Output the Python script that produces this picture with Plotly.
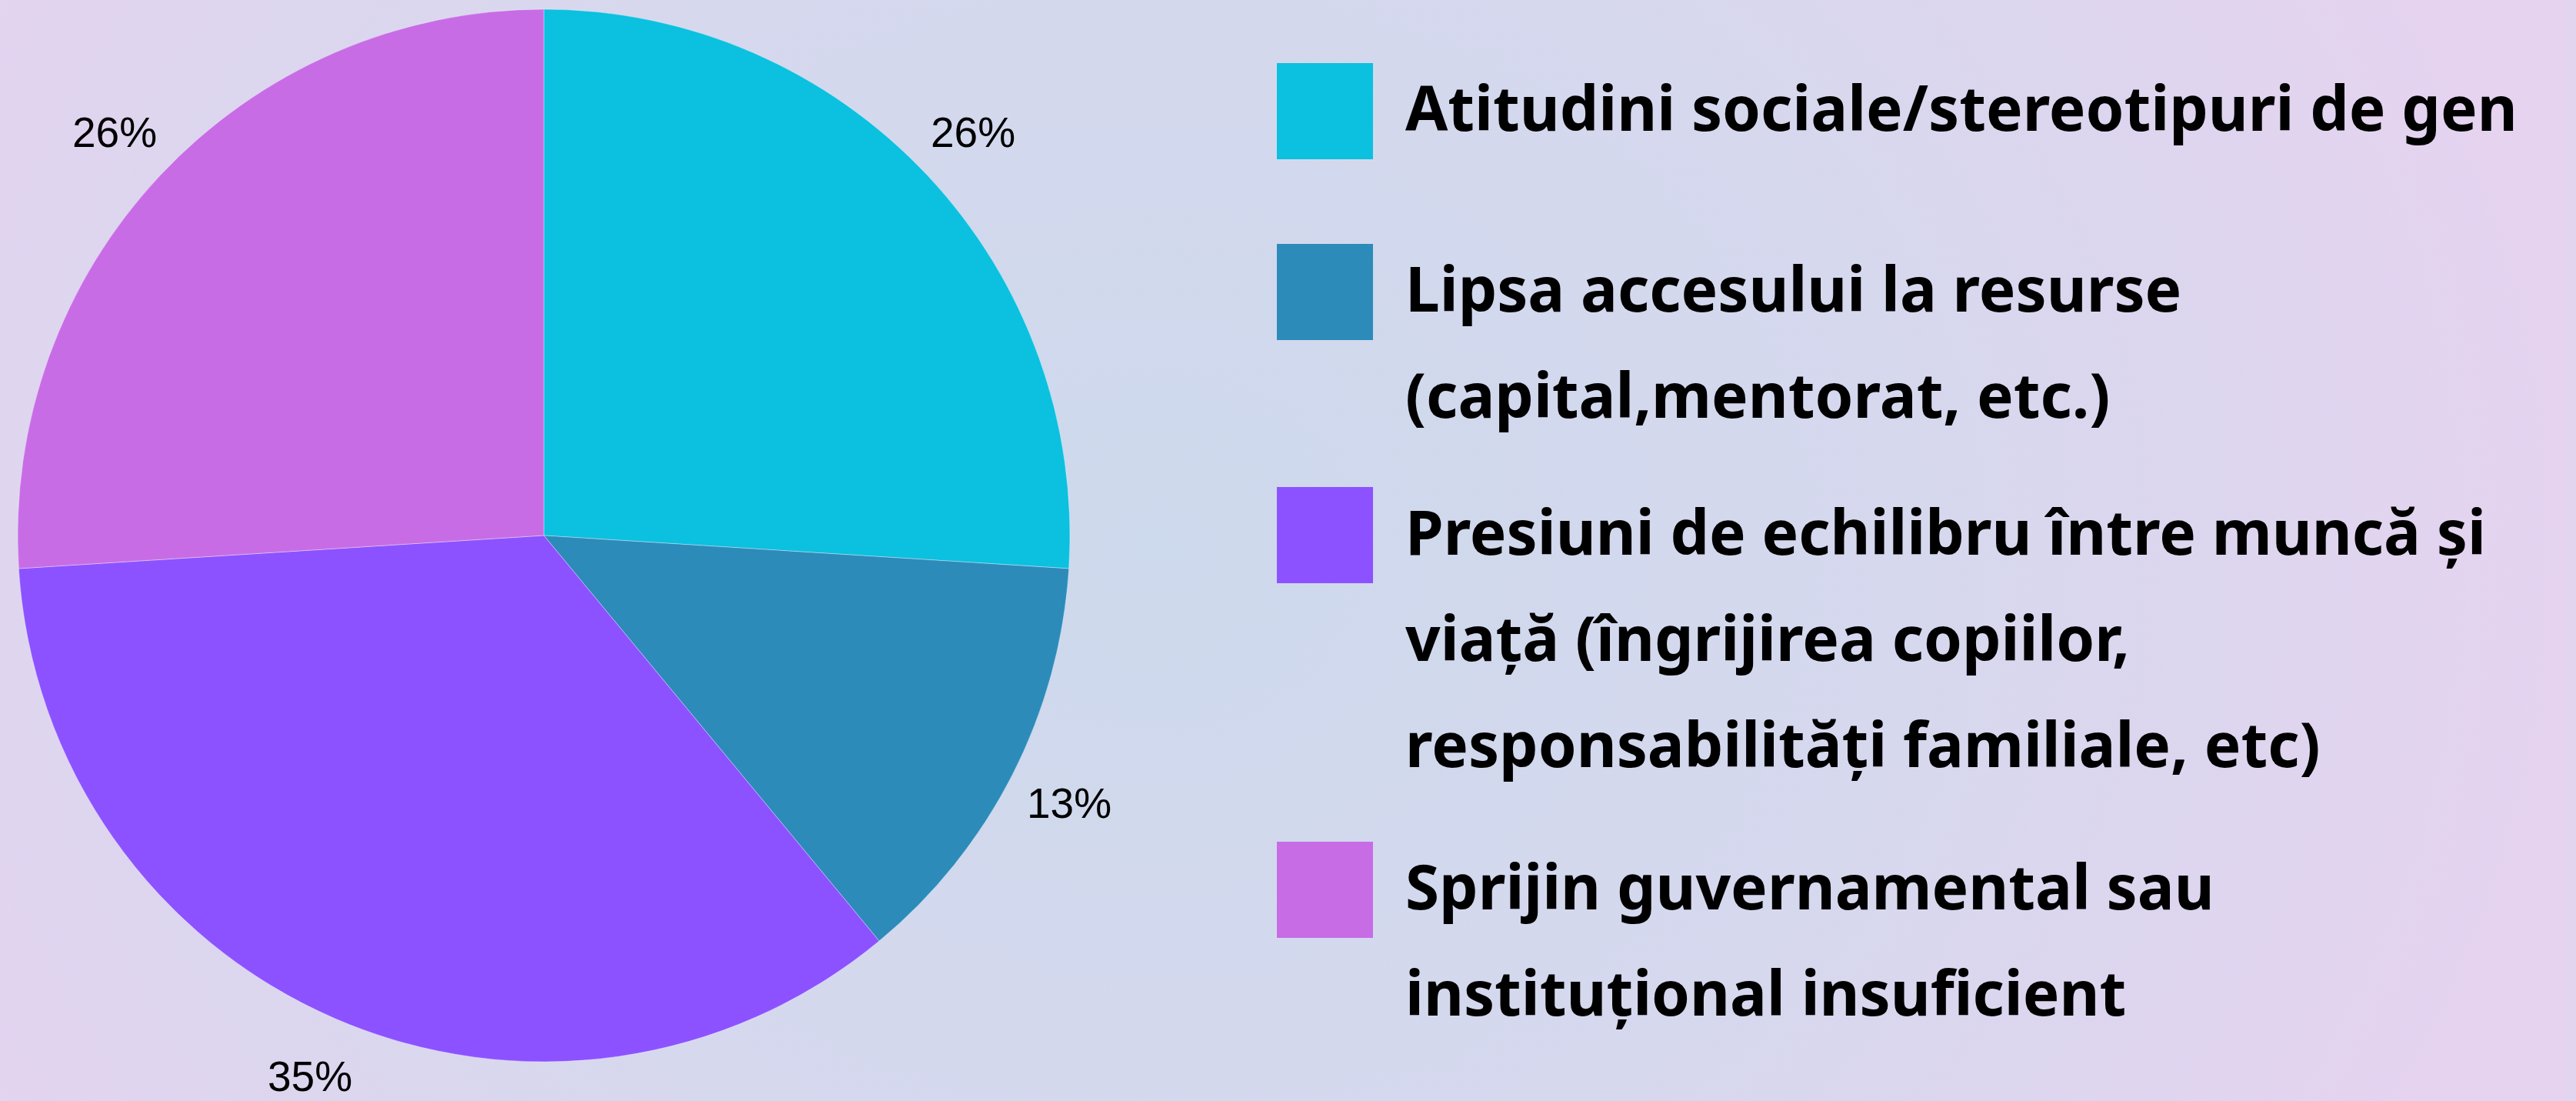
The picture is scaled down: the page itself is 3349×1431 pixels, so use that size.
import math
import plotly.graph_objects as go

# ---------------- data ----------------
categories = [
    "Atitudini sociale/stereotipuri de gen",
    "Lipsa accesului la resurse<br>(capital,mentorat, etc.)",
    "Presiuni de echilibru între muncă și<br>viață (îngrijirea copiilor,<br>responsabilități familiale, etc)",
    "Sprijin guvernamental sau<br>instituțional insuficient",
]
values = [26, 13, 35, 26]
colors = ["#0CC0DF", "#2D8BBA", "#8C52FF", "#C86CE6"]

# ---------------- layout constants (pixels) ----------------
W, H = 3349, 1431
PIE_CX, PIE_CY, PIE_R = 707, 696, 684
LABEL_DIST = 1.12
LEG_X0, SQ, TEXT_X = 1660, 125, 1825
LEG_TOPS = [82, 317, 633, 1094]
LINE_GAP, BASE_OFF = 138, 88
FS = 80


def px(x):
    return x / W


def py(y):
    return 1 - y / H


fig = go.Figure()

# soft background gradient
fig.add_trace(go.Scatter(
    x=[-0.1, 0.996, 0.996, -0.1, -0.1],
    y=[-0.6, -0.6, 1.6, 1.6, -0.6],
    fill="toself", mode="none",
    fillgradient=dict(type="radial",
                      colorscale=[[0, "#CDD9EC"], [0.55, "#D6D8EE"], [1, "#E5D3F0"]]),
    hoverinfo="skip", showlegend=False,
))

plain_labels = [c.replace("<br>", " ") for c in categories]
fig.add_trace(go.Pie(
    labels=plain_labels, values=values, sort=False,
    direction="clockwise", rotation=0,
    marker=dict(colors=colors, line=dict(color="rgba(255,255,255,0.35)", width=1)),
    textinfo="none", showlegend=False, hoverinfo="label+percent",
    domain=dict(x=[px(PIE_CX - PIE_R), px(PIE_CX + PIE_R)],
                y=[py(PIE_CY + PIE_R), py(PIE_CY - PIE_R)]),
))

# percentage labels outside slices
total = sum(values)
cum = 0
for v in values:
    mid = (cum + v / 2) / total * 2 * math.pi
    cum += v
    lx = PIE_CX + LABEL_DIST * PIE_R * math.sin(mid)
    ly = PIE_CY - LABEL_DIST * PIE_R * math.cos(mid)
    fig.add_annotation(
        x=px(lx), y=py(ly), xref="paper", yref="paper",
        text=f"{round(v / total * 100)}%", showarrow=False,
        font=dict(family="Liberation Sans", size=55, color="black"),
        xanchor="center", yanchor="middle",
    )

# custom legend
for i, (lab, col) in enumerate(zip(categories, colors)):
    top = LEG_TOPS[i]
    fig.add_shape(type="rect", xref="paper", yref="paper",
                  x0=px(LEG_X0), x1=px(LEG_X0 + SQ),
                  y0=py(top + SQ), y1=py(top),
                  fillcolor=col, line_width=0, layer="above")
    for j, line in enumerate(lab.split("<br>")):
        base = top + BASE_OFF + j * LINE_GAP
        fig.add_annotation(
            x=px(TEXT_X), y=py(base - 0.388 * FS), xref="paper", yref="paper",
            xanchor="left", yanchor="middle", text=line, showarrow=False,
            font=dict(family="Noto Sans", size=FS, color="black", weight="bold"),
        )

fig.update_layout(
    width=W, height=H,
    margin=dict(l=0, r=0, t=0, b=0),
    paper_bgcolor="#E2D5EF", plot_bgcolor="#E2D5EF",
    xaxis=dict(visible=False, range=[0, 1], domain=[0, 1], fixedrange=True),
    yaxis=dict(visible=False, range=[0, 1], domain=[0, 1], fixedrange=True),
    showlegend=False,
)

fig.write_html(
    "out.html",
    config={"displayModeBar": False},
    post_script="document.body.style.margin='0';document.body.style.overflow='hidden';",
)
